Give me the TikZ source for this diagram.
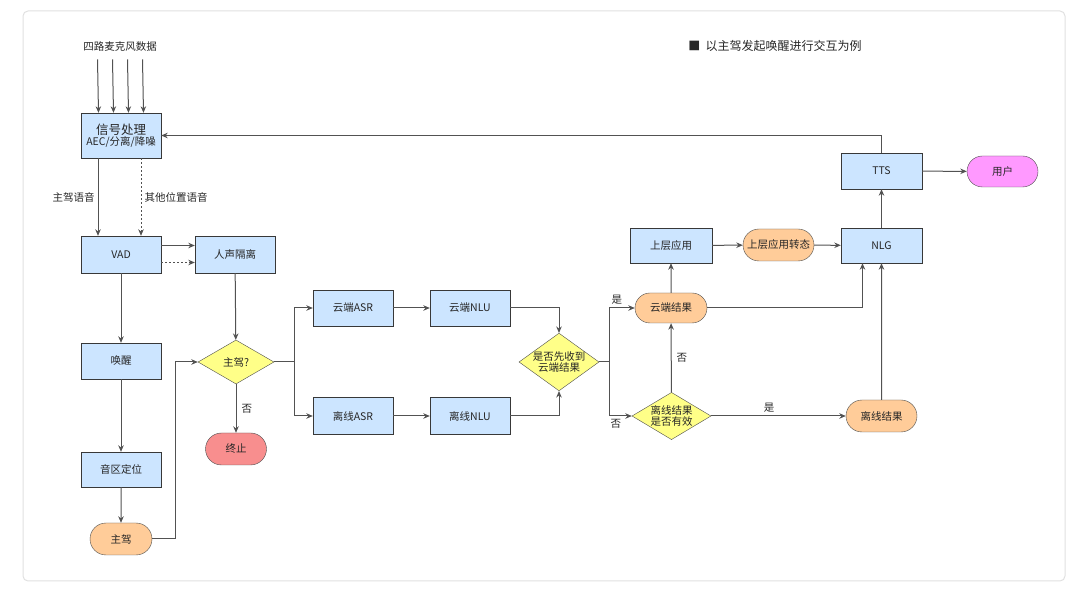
\documentclass[tikz,border=0pt]{standalone}
\usepackage{fontspec}
\setmainfont{Noto Sans CJK SC}
\usepackage{tikz}
\usetikzlibrary{shapes.geometric,shapes.misc,arrows.meta}
\usetikzlibrary{positioning}
\definecolor{boxblue}{HTML}{CCE5FF}
\definecolor{askyellow}{HTML}{FFFF88}
\definecolor{pillorange}{HTML}{FFCC99}
\definecolor{stopred}{HTML}{F88E8E}
\definecolor{userpink}{HTML}{FF99FF}

\begin{document}
\begin{tikzpicture}[x=1pt,y=-1pt, font=\fontsize{10.5}{12}\selectfont, text=black!85,
  blue box/.style={draw=black!78, fill=boxblue, minimum width=80pt, minimum height=36pt, inner sep=0pt, align=center},
  pill node/.style={rounded rectangle, draw=black!70, minimum width=71pt, minimum height=32pt, inner sep=0pt},
  ask node/.style={diamond, draw=black!70, fill=askyellow, inner sep=-4pt, minimum width=80pt, minimum height=44pt, align=center, font=\fontsize{10.5}{11.5}\selectfont},
  arr/.style={draw=black!68, line width=1pt, -{Stealth[length=6.5pt,width=5.5pt]}},
  lbl/.style={font=\fontsize{10.5}{12}\selectfont, inner sep=3pt}]
\useasboundingbox (0,0) rectangle (1080,593);
\draw[black!12, line width=1pt, rounded corners=5pt] (23,11) rectangle (1065,581);

\node (mic) at (120,47) {四路麦克风数据};
\node (legend) at (775,46) {\fontsize{12}{14}\selectfont ■\ \ 以主驾发起唤醒进行交互为例};

\node (sig) [blue box, minimum height=45pt] at (121,135.5) {{\fontsize{12.5}{14}\selectfont 信号处理}\\[-1pt]{\fontsize{10.5}{12}\selectfont AEC/分离/降噪}};
\node (vad) [blue box, minimum height=37pt] at (121,254.5) {VAD};
\node (sep) [blue box, minimum height=37pt] at (235,254.5) {人声隔离};
\node (wake) [blue box] at (121,361) {唤醒};
\node (zone) [blue box, minimum height=35pt] at (121,469.5) {音区定位};
\node (driver) [pill node, fill=pillorange, minimum width=62pt] at (121,539) {主驾};
\node (isdrv) [ask node, minimum width=76pt] at (236,362) {主驾?};
\node (halt) [pill node, fill=stopred, minimum width=61pt] at (236,449) {终止};

\node (casr) [blue box] at (353,308) {云端ASR};
\node (cnlu) [blue box] at (470,308) {云端NLU};
\node (lasr) [blue box, minimum height=37pt] at (353,416) {离线ASR};
\node (lnlu) [blue box, minimum height=37pt] at (470,416) {离线NLU};
\node (first) [ask node] at (559,362) {是否先收到\\云端结果};

\node (cres) [pill node, fill=pillorange, minimum width=72pt, minimum height=30pt] at (671,308) {云端结果};
\node (valid) [ask node, minimum width=79pt, minimum height=45pt] at (671.5,416) {离线结果\\是否有效};
\node (lres) [pill node, fill=pillorange] at (881.5,416) {离线结果};
\node (app) [blue box, minimum width=82pt, minimum height=35pt] at (671,245.5) {上层应用};
\node (appst) [pill node, fill=pillorange] at (778.5,245) {上层应用转态};
\node (nlg) [blue box, minimum width=81pt, minimum height=35pt] at (881.5,245.5) {NLG};
\node (tts) [blue box, minimum width=81pt] at (881.5,171) {TTS};
\node (user) [pill node, fill=userpink, minimum height=31pt] at (1002.5,171.5) {用户};

\foreach \dx in {-22.5,-7.5,7.5,22.5}
  \draw[arr] ([xshift=\dx pt]mic.south)++(0,4) -- ([xshift=\dx pt]sig.north);

\draw[arr] ([xshift=-23pt]sig.south) -- ([xshift=-23pt]vad.north) node[lbl, midway, left] {主驾语音};
\draw[arr, dash pattern=on 2pt off 2pt] ([xshift=20pt]sig.south) -- ([xshift=20pt]vad.north) node[lbl, midway, right] {其他位置语音};
\draw[arr] ([yshift=9pt]vad.east) -- ([yshift=9pt]sep.west);
\draw[arr, dash pattern=on 2pt off 2pt] ([yshift=-8pt]vad.east) -- ([yshift=-8pt]sep.west);
\draw[arr] (vad) -- (wake);
\draw[arr] (wake) -- (zone);
\draw[arr] (zone) -- (driver);
\draw[arr] (driver.east) -- ++(23,0) |- (isdrv.west);
\draw[arr] (sep) -- (isdrv);
\draw[arr] (isdrv) -- (halt) node[lbl, midway, right, xshift=2pt] {否};

\draw[arr] (isdrv.east) -- ++(20,0) |- (casr.west);
\draw[arr] (isdrv.east) -- ++(20,0) |- (lasr.west);
\draw[arr] (casr) -- (cnlu);
\draw[arr] (lasr) -- (lnlu);
\draw[arr] (cnlu.east) -| (first.north);
\draw[arr] (lnlu.east) -| (first.south);

\draw[arr] (first.east) -- ++(10,0) |- (cres.west) node[lbl, pos=0.65, above] {是};
\draw[arr] (first.east) -- ++(10,0) |- (valid.west) node[lbl, pos=0.65, below] {否};
\draw[arr] (valid) -- (cres) node[lbl, midway, right, xshift=2pt] {否};
\draw[arr] (valid) -- (lres) node[lbl, pos=0.43, above] {是};
\draw[arr] (cres) -- (app);
\draw[arr] (app) -- (appst);
\draw[arr] (appst) -- (nlg);
\draw[arr] (cres.east) -| ([xshift=-19pt]nlg.south);
\draw[arr] (lres) -- (nlg);
\draw[arr] (nlg) -- (tts);
\draw[arr] (tts) -- (user);
\draw[arr] (tts.north) |- (sig.east);
\end{tikzpicture}
\end{document}
